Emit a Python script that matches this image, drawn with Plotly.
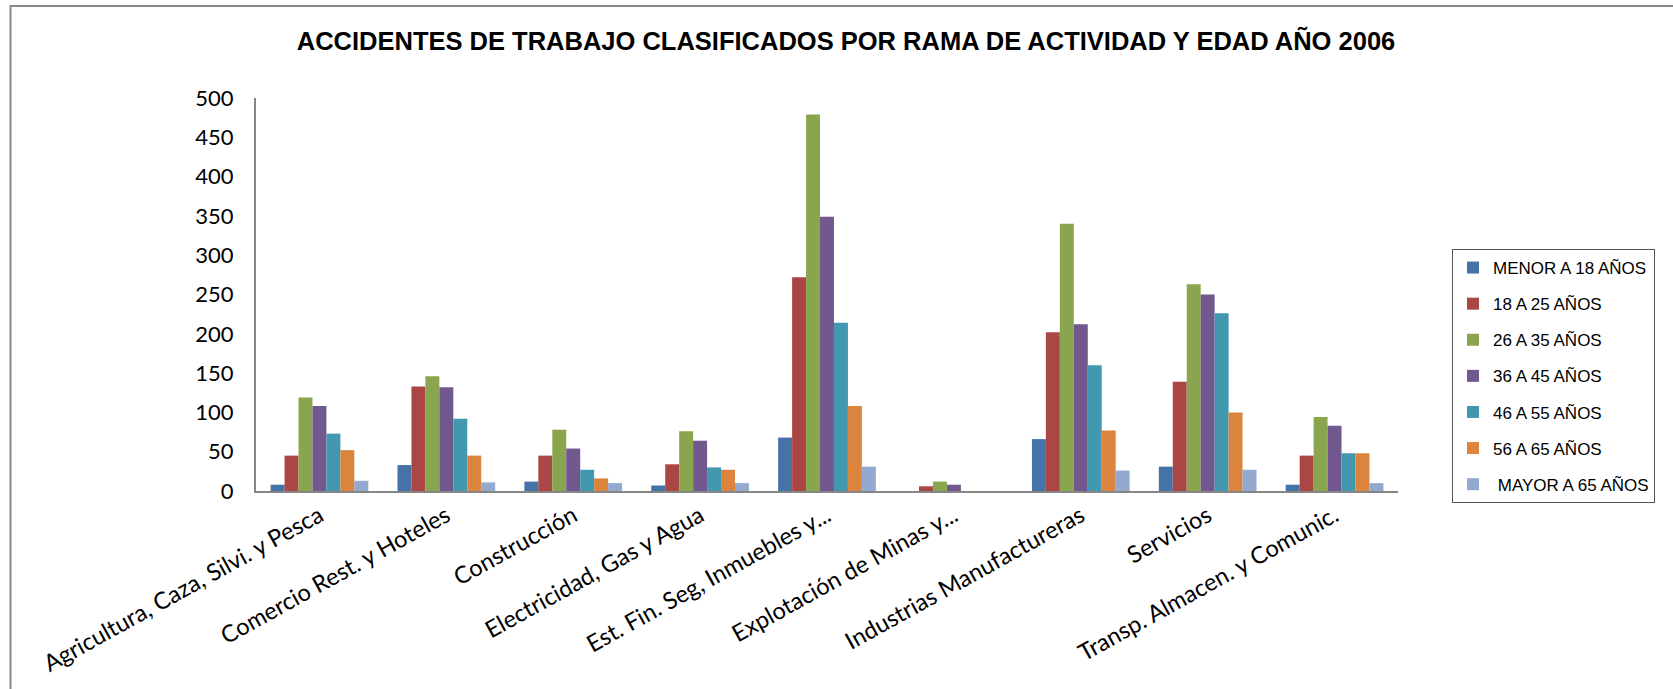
import plotly.graph_objects as go

categories = [
    "Agricultura, Caza, Silvi. y Pesca",
    "Comercio Rest. y Hoteles",
    "Construcción",
    "Electricidad, Gas y Agua",
    "Est. Fin. Seg, Inmuebles y...",
    "Explotación de Minas y...",
    "Industrias Manufactureras",
    "Servicios",
    "Transp. Almacen. y Comunic.",
]

series_names = [
    "MENOR A 18 AÑOS",
    "18 A 25 AÑOS",
    "26 A 35 AÑOS",
    "36 A 45 AÑOS",
    "46 A 55 AÑOS",
    "56 A 65 AÑOS",
    " MAYOR A 65 AÑOS",
]

menor_18 = [8, 33, 12, 7, 68, 0, 66, 31, 8]
a18_25 = [45, 133, 45, 34, 272, 6, 202, 139, 45]
a26_35 = [119, 146, 78, 76, 479, 12, 340, 263, 94]
a36_45 = [108, 132, 54, 64, 349, 8, 212, 250, 83]
a46_55 = [73, 92, 27, 30, 214, 0, 160, 226, 48]
a56_65 = [52, 45, 16, 27, 108, 0, 77, 100, 48]
mayor_65 = [13, 11, 10, 10, 31, 0, 26, 27, 10]

series_values = [menor_18, a18_25, a26_35, a36_45, a46_55, a56_65, mayor_65]
colors = ["#4572A7", "#AA4643", "#89A54E", "#71588F", "#4198AF", "#DB843D", "#93A9CF"]

y_ticks = [0, 50, 100, 150, 200, 250, 300, 350, 400, 450, 500]

fig = go.Figure()
for i, (name, vals, col) in enumerate(zip(series_names, series_values, colors)):
    fig.add_trace(go.Bar(
        x=categories, y=vals, name=name, marker_color=col,
        marker_line_width=0, legendgroup=f"g{i}",
    ))

W, H = 1673, 689
L, R, T, B = 256, 1398, 98, 491

def px_x(p):
    return (p - L) / (R - L)

def px_y(p):
    return (B - p) / (B - T)

fig.update_layout(
    width=W, height=H,
    margin=dict(l=L, r=W - R, t=T, b=H - B),
    paper_bgcolor="white", plot_bgcolor="white",
    barmode="group", bargap=0.23, bargroupgap=0,
    title=dict(
        text="<b>ACCIDENTES DE TRABAJO CLASIFICADOS POR RAMA DE ACTIVIDAD Y EDAD AÑO 2006</b>",
        x=846 / W, xanchor="center", y=1 - 41 / H, yanchor="middle",
        font=dict(family="Liberation Sans, Arial", size=25.5, color="black"),
    ),
    xaxis=dict(
        type="category", showline=True, linecolor="#868686", linewidth=2,
        ticks="", tickangle=-29, showgrid=False,
        tickfont=dict(family="Lato", size=23.5, color="black"),
    ),
    yaxis=dict(
        range=[0, 500], tickvals=y_ticks, showline=True, linecolor="#868686",
        linewidth=2, ticks="", showgrid=False, zeroline=False,
        ticklabelstandoff=16,
        tickfont=dict(family="Lato", size=22, color="black"),
    ),
    legend=dict(
        x=px_x(1452), xanchor="left", y=px_y(249), yanchor="top",
        bordercolor="#555555", borderwidth=1, bgcolor="white",
        font=dict(family="Liberation Sans, Arial", size=17, color="black"),
        tracegroupgap=11, itemwidth=30,
    ),
    shapes=[dict(
        type="rect", xref="paper", yref="paper",
        x0=px_x(10.5), x1=px_x(1700), y0=px_y(6), y1=px_y(720),
        line=dict(color="#898989", width=2),
    )],
)

fig.write_html(
    "out.html",
    config={"displayModeBar": False},
    post_script="document.body.style.margin='0';",
)
